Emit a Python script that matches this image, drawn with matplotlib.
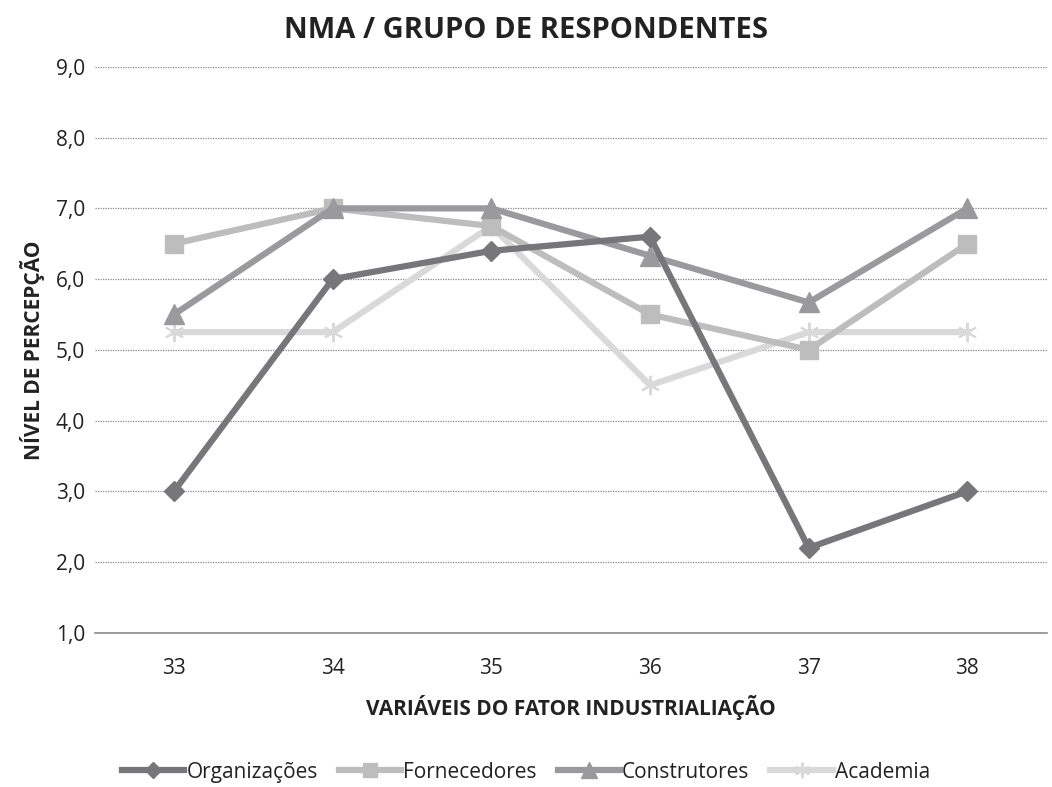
import matplotlib
matplotlib.use("Agg")
import matplotlib.pyplot as plt
from matplotlib.ticker import FuncFormatter

# Data
variaveis = ["33", "34", "35", "36", "37", "38"]
organizacoes = [3.0, 6.0, 6.4, 6.6, 2.2, 3.0]
fornecedores = [6.5, 7.0, 6.75, 5.5, 5.0, 6.5]
construtores = [5.5, 7.0, 7.0, 6.33, 5.67, 7.0]
academia = [5.25, 5.25, 6.75, 4.5, 5.25, 5.25]
y_ticks = [1, 2, 3, 4, 5, 6, 7, 8, 9]

plt.rcParams["font.family"] = ["Open Sans", "DejaVu Sans"]

fig = plt.figure(figsize=(10.52, 7.87), dpi=100)
ax = fig.add_axes([0.09, 0.196, 0.905, 0.719])

x = list(range(len(variaveis)))

# Series (drawn so overlaps look like the reference)
ax.plot(x, academia, color="#d9d9d9", lw=4.5, marker=(6, 2, 0), ms=14,
        mew=1.5, label="Academia", zorder=3)
ax.plot(x, fornecedores, color="#bdbdbd", lw=4.5, marker="s", ms=13,
        label="Fornecedores", zorder=4)
ax.plot(x, construtores, color="#9a9a9c", lw=4.5, marker="^", ms=14,
        label="Construtores", zorder=5)
ax.plot(x, organizacoes, color="#77777a", lw=4.5, marker="D", ms=10,
        label="Organizações", zorder=6)

# Axes styling
ax.set_xlim(-0.5, len(variaveis) - 0.5)
ax.set_ylim(1, 9)
ax.set_yticks(y_ticks)
ax.yaxis.set_major_formatter(FuncFormatter(lambda v, p: f"{v:.1f}".replace(".", ",")))
ax.set_xticks(x)
ax.set_xticklabels(variaveis)
ax.tick_params(length=0, labelsize=15, colors="#222222")
ax.tick_params(axis="x", pad=18)
ax.tick_params(axis="y", pad=7)
ax.grid(axis="y", linestyle=(0, (1, 1)), color="#888888", lw=0.9)
ax.set_axisbelow(True)
for s in ["top", "right", "left"]:
    ax.spines[s].set_visible(False)
ax.spines["bottom"].set_color("#8c8c8c")
ax.spines["bottom"].set_linewidth(1.2)

# Titles and labels
fig.suptitle("NMA / GRUPO DE RESPONDENTES", fontsize=21, fontweight="bold",
             color="#222222", x=0.5, y=0.98)
ax.set_xlabel("VARIÁVEIS DO FATOR INDUSTRIALIAÇÃO", fontsize=15,
              fontweight="bold", color="#222222", labelpad=12)
ax.set_ylabel("NÍVEL DE PERCEPÇÃO", fontsize=15, fontweight="bold",
              color="#222222", labelpad=8)

# Legend in the reference order
handles, labels = ax.get_legend_handles_labels()
order = ["Organizações", "Fornecedores", "Construtores", "Academia"]
hmap = dict(zip(labels, handles))
fig.legend([hmap[k] for k in order], order, loc="center",
           bbox_to_anchor=(0.5, 0.019), ncol=4, frameon=False, fontsize=15,
           handlelength=3, handletextpad=0.1, columnspacing=1.0,
           markerscale=0.8, labelcolor="#222222")

fig.savefig("out.png", dpi=100)
